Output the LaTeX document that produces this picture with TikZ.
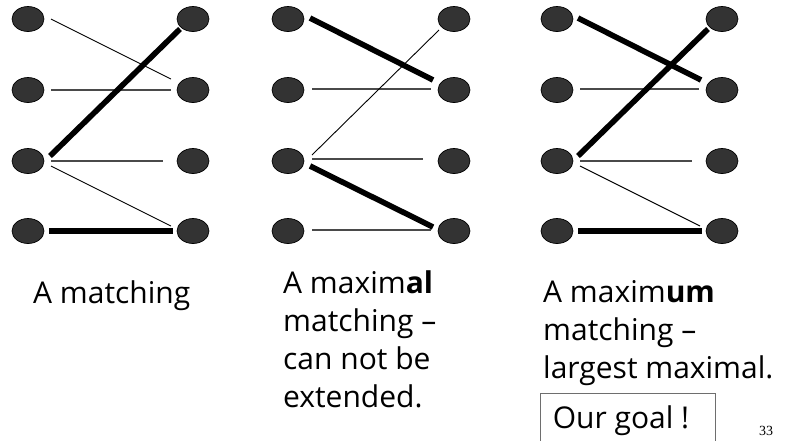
\documentclass[tikz,border=0pt]{standalone}
\usepackage{fontspec}
\setmainfont{Open Sans}
\newfontfamily\pagenumfont{Liberation Serif}
\usetikzlibrary{shapes.geometric}
\definecolor{vfill}{HTML}{333333}
\definecolor{levelgray}{HTML}{4A4A4A}
\definecolor{boxgray}{HTML}{6E6E6E}
\begin{document}
\begin{tikzpicture}[x=1pt,y=-1pt,
  vertex/.style={ellipse, draw=black, line width=0.7pt, fill=vfill,
                 minimum width=32pt, minimum height=25pt, inner sep=0pt},
  plain/.style={line width=0.9pt, black},
  level/.style={line width=1.1pt, levelgray},
  matched/.style={line width=5.6pt, black},
  caption/.style={anchor=base west, inner sep=0pt, align=left,
                  font=\fontsize{30}{38}\selectfont},
  goalbox/.style={draw=boxgray, line width=1pt, minimum width=175pt,
                  minimum height=54pt, inner sep=0pt,
                  font=\fontsize{30}{38}\selectfont}
]
\useasboundingbox (0,0) rectangle (785,440);

% three copies of the bipartite graph: left column a1..a4, right column b1..b4
\foreach \g/\lx/\rx in {1/28/193, 2/288/454, 3/557/722} {
  \foreach \i/\y in {1/19, 2/90, 3/161, 4/231} {
    \node[vertex] (g\g a\i) at (\lx,\y) {};
    \node[vertex] (g\g b\i) at (\rx,\y) {};
  }
}

% --- a matching
\draw[plain]   ([shift={(23,0)}]g1a1.center)  -- ([shift={(-22,-11)}]g1b2.center);
\draw[level]   ([shift={(23,0)}]g1a2.center)  -- ([shift={(-22,0)}]g1b2.center);
\draw[matched] ([shift={(22,-5)}]g1a3.center) -- ([shift={(-13,10)}]g1b1.center);
\draw[level]   ([shift={(23,0)}]g1a3.center)  -- ([shift={(-30,0)}]g1b3.center);
\draw[plain]   ([shift={(23,5)}]g1a3.center)  -- ([shift={(-22,-5)}]g1b4.center);
\draw[matched] ([shift={(21,0)}]g1a4.center)  -- ([shift={(-20,0)}]g1b4.center);

% --- a maximal matching
\draw[matched] ([shift={(22,-1)}]g2a1.center) -- ([shift={(-21,-10)}]g2b2.center);
\draw[level]   ([shift={(24,-1)}]g2a2.center) -- ([shift={(-23,-1)}]g2b2.center);
\draw[plain]   ([shift={(24,-6)}]g2a3.center) -- ([shift={(-15,11)}]g2b1.center);
\draw[level]   ([shift={(24,-2)}]g2a3.center) -- ([shift={(-31,-2)}]g2b3.center);
\draw[matched] ([shift={(22,5)}]g2a3.center)  -- ([shift={(-21,-4)}]g2b4.center);
\draw[level]   ([shift={(24,-1)}]g2a4.center) -- ([shift={(-23,-1)}]g2b4.center);

% --- a maximum matching
\draw[matched] ([shift={(21,-1)}]g3a1.center) -- ([shift={(-21,-10)}]g3b2.center);
\draw[level]   ([shift={(23,-1)}]g3a2.center) -- ([shift={(-23,-1)}]g3b2.center);
\draw[matched] ([shift={(21,-5)}]g3a3.center) -- ([shift={(-14,10)}]g3b1.center);
\draw[level]   ([shift={(23,0)}]g3a3.center)  -- ([shift={(-30,0)}]g3b3.center);
\draw[plain]   ([shift={(23,5)}]g3a3.center)  -- ([shift={(-22,-5)}]g3b4.center);
\draw[matched] ([shift={(21,0)}]g3a4.center)  -- ([shift={(-20,0)}]g3b4.center);

% captions (a multi-line node sits on the baseline of its last line)
\node[caption] (cap1) at (33,303) {A matching};
\node[caption] (cap2) at (283,407) {A maxim\textbf{al}\\matching –\\can not be\\extended.};
\node[caption] (cap3) at (543,378) {A maxim\textbf{um}\\matching –\\largest maximal.};

\node[goalbox, anchor=north west] (goal) at (540,393) {Our goal !\hspace*{14pt}};

\node[anchor=base west, inner sep=0pt, font=\pagenumfont\fontsize{14}{16}\selectfont]
  (pagenum) at (759,435) {33};
\end{tikzpicture}
\end{document}
